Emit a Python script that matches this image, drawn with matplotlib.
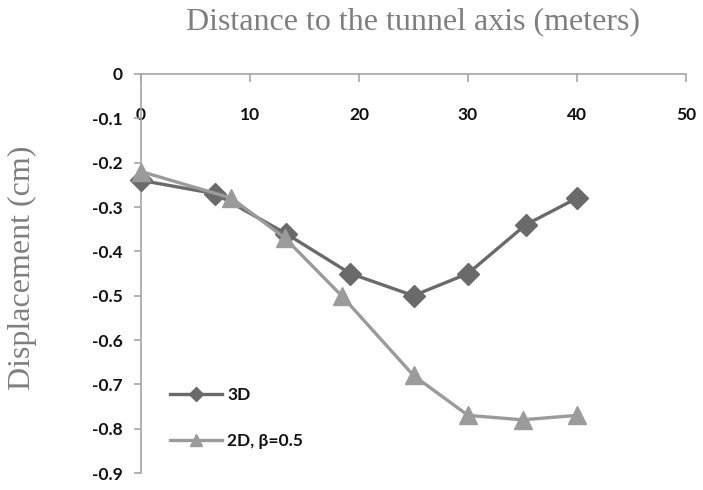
import matplotlib

matplotlib.use("Agg")
import matplotlib.pyplot as plt

# distance to tunnel axis (m) and surface displacement (cm)
x_3d = [0, 6.8, 13.3, 19.2, 25, 30, 35.3, 40]
y_3d = [-0.24, -0.27, -0.36, -0.45, -0.50, -0.45, -0.34, -0.28]

x_2d = [0, 8.3, 13.2, 18.4, 25, 30, 35, 40]
y_2d = [-0.22, -0.28, -0.37, -0.50, -0.68, -0.77, -0.78, -0.77]

x_ticks = [0, 10, 20, 30, 40, 50]
y_ticks = [0, -0.1, -0.2, -0.3, -0.4, -0.5, -0.6, -0.7, -0.8, -0.9]
y_ticklabels = ["0", "-0.1", "-0.2", "-0.3", "-0.4", "-0.5", "-0.6", "-0.7", "-0.8", "-0.9"]

DARK = "#6a6a6a"
LIGHT = "#9b9b9b"
AXIS = "#a6a6a6"
TITLE_GREY = "#7f7f7f"

fig = plt.figure(figsize=(7.03, 4.90), dpi=100)
fig.patch.set_facecolor("white")
ax = fig.add_axes([141 / 703, 1 - 473 / 490, 545 / 703, 399 / 490])

ax.plot(x_3d, y_3d, color=DARK, lw=2.4, marker="D", markersize=11,
        label="3D", clip_on=False, zorder=3)
ax.plot(x_2d, y_2d, color=LIGHT, lw=2.4, marker="^", markersize=13,
        label="2D, β=0.5", clip_on=False, zorder=4)

ax.set_xlim(0, 50)
ax.set_ylim(-0.9, 0)
ax.set_xticks(x_ticks)
ax.set_yticks(y_ticks)
ax.set_yticklabels(y_ticklabels)

# x axis sits on the y=0 line at the top, labels hang below it
ax.spines["bottom"].set_position(("data", 0))
ax.spines["top"].set_visible(False)
ax.spines["right"].set_visible(False)
for side in ("left", "bottom"):
    ax.spines[side].set_color(AXIS)
    ax.spines[side].set_linewidth(1.2)

ax.tick_params(axis="x", direction="out", length=6, width=1.2, color=AXIS, pad=18)
ax.tick_params(axis="y", direction="out", length=5, width=1.2, color=AXIS, pad=8)
for lab in ax.get_xticklabels() + ax.get_yticklabels():
    lab.set_fontfamily("Lato")
    lab.set_fontweight("bold")
    lab.set_fontsize(12.5)
    lab.set_color("#111111")

leg = ax.legend(loc="upper left", bbox_to_anchor=(0.053, 0.215), frameon=False,
                borderpad=0, borderaxespad=0, handlelength=3.0, handletextpad=0.3,
                labelspacing=1.7, markerscale=0.65,
                prop={"family": "Lato", "weight": "bold", "size": 12.5})
for t in leg.get_texts():
    t.set_color("#111111")

fig.text(413 / 703, 1 - 22 / 490, "Distance to the tunnel axis (meters)",
         ha="center", va="center", fontsize=23, color=TITLE_GREY,
         family="Liberation Serif")
fig.text(22 / 703, 1 - 268 / 490, "Displacement (cm)", rotation=90,
         ha="center", va="center", fontsize=23, color=TITLE_GREY,
         family="Liberation Serif")

fig.savefig("out.png", dpi=100, facecolor="white")
